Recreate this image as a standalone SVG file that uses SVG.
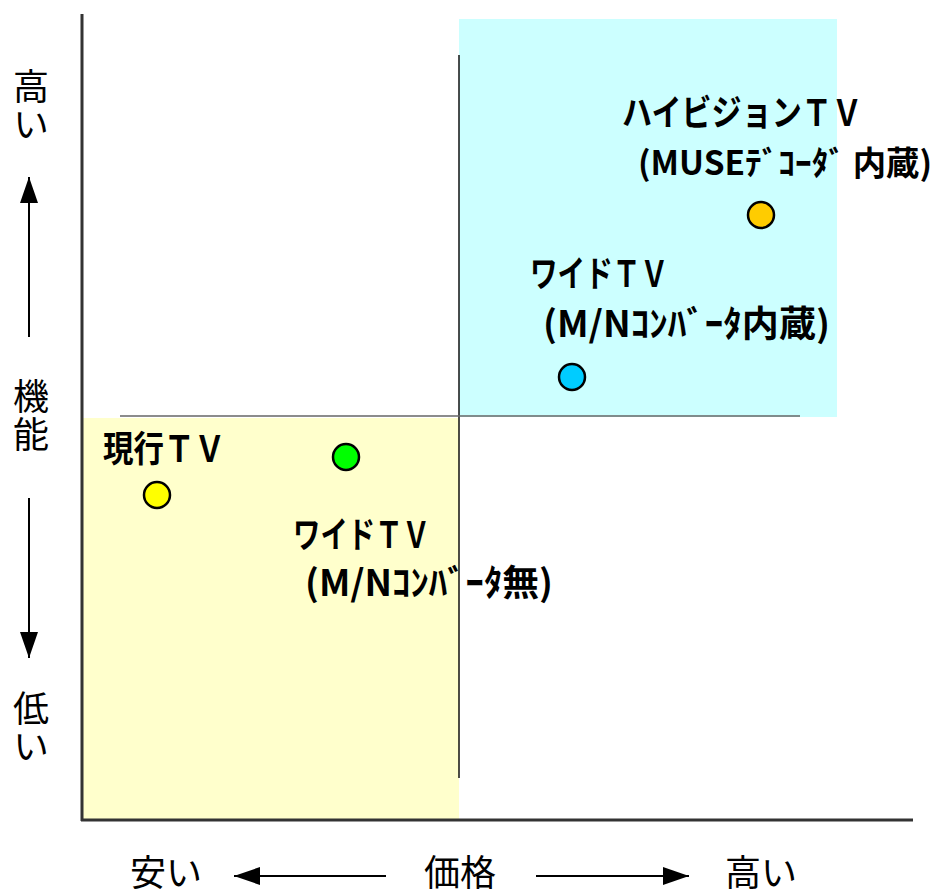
<svg xmlns="http://www.w3.org/2000/svg" width="940" height="895" viewBox="0 0 940 895">
<style>
.ax{font-family:"Noto Sans CJK JP","Noto Sans",sans-serif;font-size:36px;fill:#000}
.vt{writing-mode:vertical-rl;letter-spacing:2px}
.lb{font-family:"Noto Sans CJK JP","Noto Sans",sans-serif;font-size:36px;font-weight:bold;fill:#000}
.sm{font-size:33px}
.pt{stroke:#000;stroke-width:2.5}
</style>
<defs>
<marker id="ah2" viewBox="0 0 26 18" refX="26" refY="9" markerWidth="26" markerHeight="18" markerUnits="userSpaceOnUse" orient="auto">
<path d="M0,0 L26,9 L0,18 z" fill="#000"/>
</marker>
</defs>
<rect width="940" height="895" fill="#fff"/>
<g id="regions">
<rect x="459" y="19" width="378" height="398" fill="#CCFFFF"/>
<rect x="82" y="418" width="377" height="402" fill="#FFFFCC"/>
</g>
<g id="connectors">
<line x1="82" y1="14" x2="82" y2="821" stroke="#333" stroke-width="3"/>
<line x1="81" y1="820" x2="913" y2="820" stroke="#333" stroke-width="3"/>
<line x1="459" y1="55" x2="459" y2="778" stroke="#111" stroke-width="1.5"/>
<line x1="120" y1="416" x2="800" y2="416" stroke="#666" stroke-width="1.5"/>
<line x1="29" y1="337" x2="29" y2="177" stroke="#000" stroke-width="2" marker-end="url(#ah2)"/>
<line x1="29" y1="498" x2="29" y2="658" stroke="#000" stroke-width="2" marker-end="url(#ah2)"/>
<line x1="386" y1="876" x2="234" y2="876" stroke="#000" stroke-width="2" marker-end="url(#ah2)"/>
<line x1="536" y1="876" x2="689" y2="876" stroke="#000" stroke-width="2" marker-end="url(#ah2)"/>
</g>
<g id="axis-labels">
<text class="ax vt" x="31" y="68">高い</text>
<text class="ax vt" x="31" y="378">機能</text>
<text class="ax vt" x="31" y="690">低い</text>
<text class="ax" x="130" y="886">安い</text>
<text class="ax" x="424" y="886">価格</text>
<text class="ax" x="725" y="886">高い</text>
</g>
<g id="hivision">
<circle class="pt" cx="761" cy="215" r="13" fill="#FFCC00"/>
<text class="lb" x="622" y="126" textLength="240" lengthAdjust="spacingAndGlyphs">ハイビジョンＴＶ</text>
<text class="lb sm" x="638" y="175" textLength="294" lengthAdjust="spacingAndGlyphs">(MUSEﾃﾞｺｰﾀﾞ 内蔵)</text>
</g>
<g id="wide-tv-in">
<circle class="pt" cx="572" cy="377" r="13" fill="#00CCFF"/>
<text class="lb" x="530" y="287" textLength="138" lengthAdjust="spacingAndGlyphs">ワイドＴＶ</text>
<text class="lb" x="543" y="337" textLength="287" lengthAdjust="spacingAndGlyphs">(M/Nｺﾝﾊﾞｰﾀ内蔵)</text>
</g>
<g id="current-tv">
<circle class="pt" cx="157" cy="495" r="13" fill="#FFFF00"/>
<text class="lb" x="103" y="462" textLength="122" lengthAdjust="spacingAndGlyphs">現行ＴＶ</text>
</g>
<g id="wide-tv-none">
<circle class="pt" cx="346" cy="457" r="13" fill="#00FF00"/>
<text class="lb" x="293" y="548" textLength="137" lengthAdjust="spacingAndGlyphs">ワイドＴＶ</text>
<text class="lb" x="305" y="596" textLength="248" lengthAdjust="spacingAndGlyphs">(M/Nｺﾝﾊﾞｰﾀ無)</text>
</g>
</svg>
